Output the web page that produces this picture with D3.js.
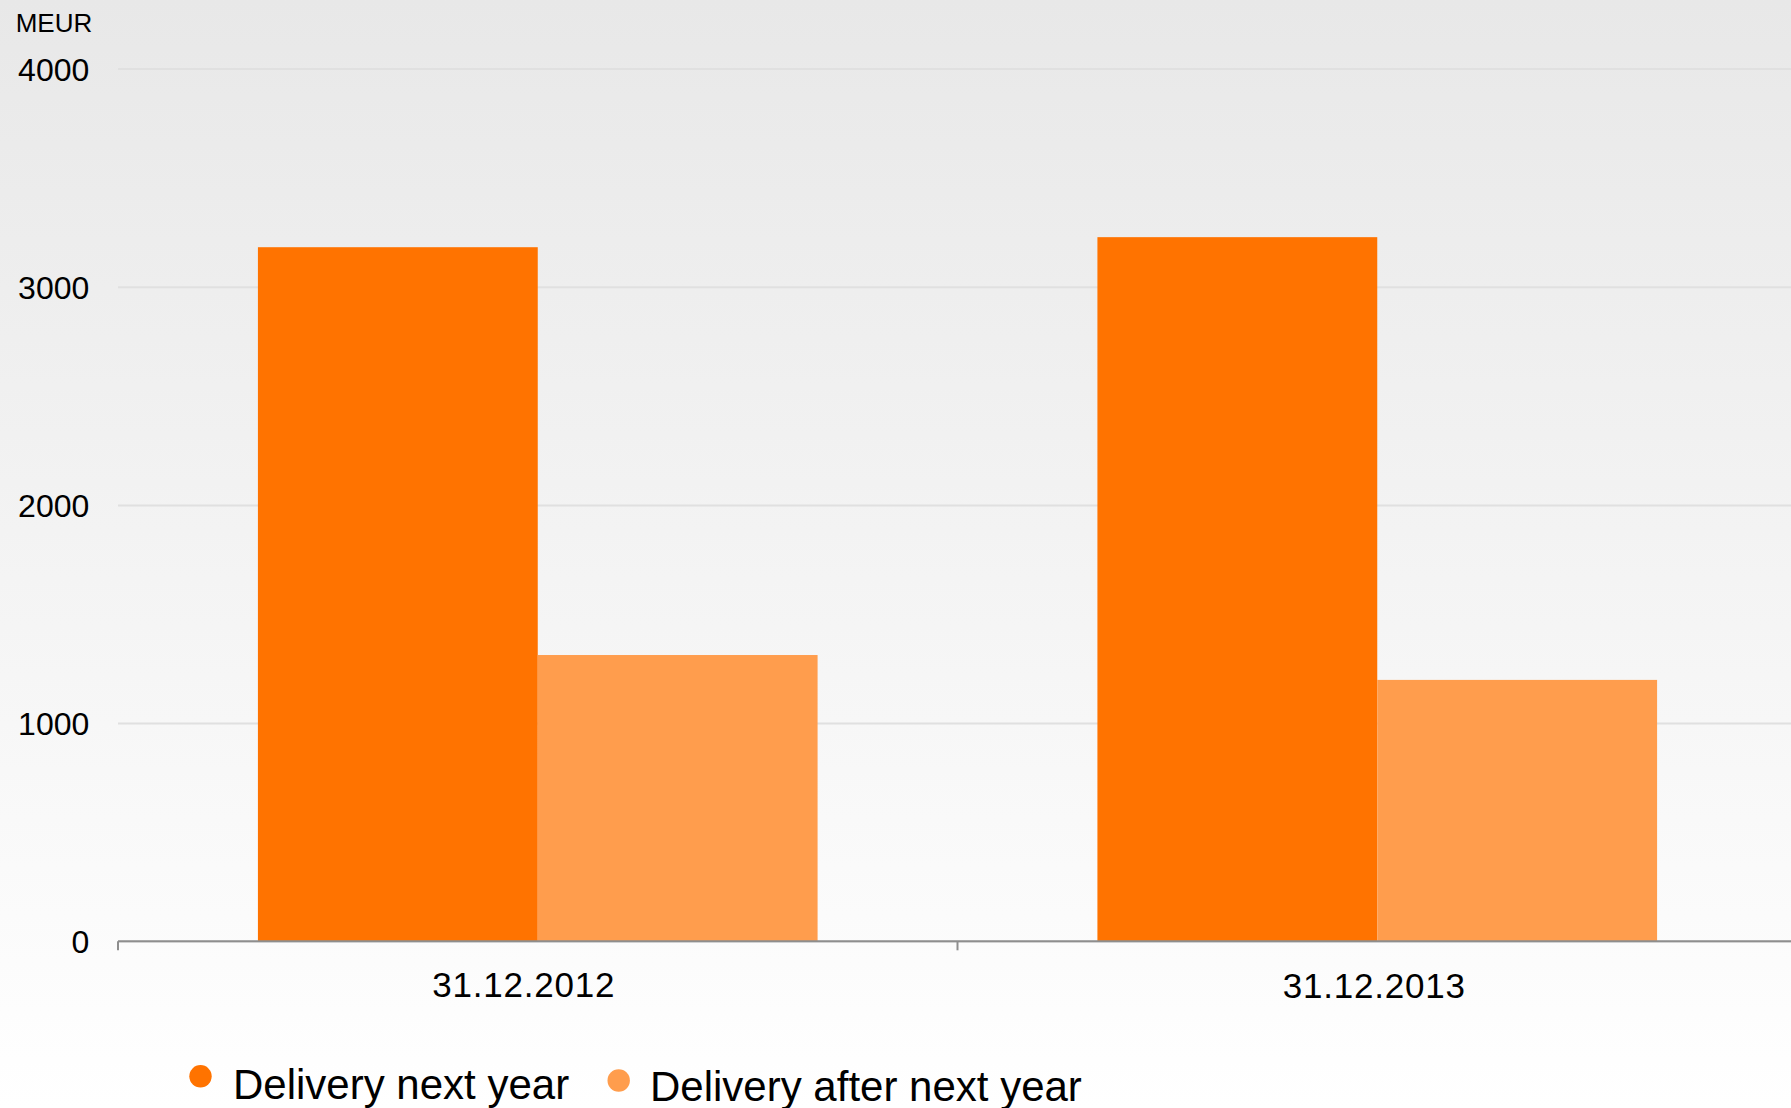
<!doctype html>
<html>
<head>
  <meta charset="UTF-8">
  <script src="https://d3js.org/d3.v7.min.js"></script>
  <style>
    html, body { margin: 0; padding: 0; overflow: hidden; }
    svg { display: block; font-family: "Liberation Sans", Arial, sans-serif; }
  </style>
</head>
<body>
<svg id="chart" width="1791" height="1108"></svg>
<script>
// chart data
var categories = ["31.12.2012", "31.12.2013"];
var seriesNames = ["Delivery next year", "Delivery after next year"];
var nextYear = [3181, 3227];
var afterNextYear = [1312, 1198];
var yTicks = [0, 1000, 2000, 3000, 4000];
var colors = ["#ff7300", "#ff9d4d"];

var svg = d3.select("#chart");
var W = 1791, H = 1108;
var plotLeft = 118, plotRight = 1797, plotTop = 68.5, plotBottom = 941.3;

// background gradient
var defs = svg.append("defs");
var grad = defs.append("linearGradient")
    .attr("id", "bg").attr("x1", 0).attr("y1", 0).attr("x2", 0).attr("y2", 1);
grad.append("stop").attr("offset", "0%").attr("stop-color", "#e8e8e8");
grad.append("stop").attr("offset", "100%").attr("stop-color", "#ffffff");
svg.append("rect").attr("width", W).attr("height", H).attr("fill", "url(#bg)");

var x0 = d3.scaleBand().domain(categories).range([plotLeft, plotRight]).padding(0);
var x1 = d3.scaleBand().domain(seriesNames).range([0, x0.bandwidth()])
    .paddingInner(0).paddingOuter(0.5);
var y = d3.scaleLinear().domain([0, 4000]).range([plotBottom, plotTop]);

// grid lines
var grid = svg.append("g").attr("transform", "translate(" + plotLeft + ",0)")
  .call(d3.axisLeft(y).tickValues(yTicks).tickSize(-(W - plotLeft)).tickFormat(""));
grid.select(".domain").remove();
grid.selectAll(".tick line").attr("stroke", "#e0e0e0").attr("stroke-width", 2);

// y labels
var yAxis = svg.append("g").attr("transform", "translate(89.3,0)")
  .call(d3.axisLeft(y).tickValues(yTicks).tickSize(0).tickPadding(0).tickFormat(d3.format("d")));
yAxis.select(".domain").remove();
yAxis.selectAll("text")
  .attr("font-family", "Liberation Sans, Arial, sans-serif")
  .attr("font-size", 32).attr("fill", "#000").attr("dy", "0.36em");

svg.append("text").attr("x", 15.7).attr("y", 32.3)
  .attr("font-size", 26).attr("fill", "#000").text("MEUR");

// bars
var rows = categories.map(function(c, i) {
  return { cat: c, values: [nextYear[i], afterNextYear[i]] };
});
var groups = svg.append("g").selectAll("g").data(rows).enter().append("g")
  .attr("transform", function(d) { return "translate(" + x0(d.cat) + ",0)"; });
groups.selectAll("rect")
  .data(function(d) { return d.values.map(function(v, j) { return { name: seriesNames[j], v: v, j: j }; }); })
  .enter().append("rect")
  .attr("x", function(d) { return x1(d.name); })
  .attr("y", function(d) { return y(d.v); })
  .attr("width", x1.bandwidth())
  .attr("height", function(d) { return y(0) - y(d.v); })
  .attr("fill", function(d) { return colors[d.j]; });

// x axis line and ticks at band edges
svg.append("line").attr("x1", plotLeft).attr("x2", W).attr("y1", y(0)).attr("y2", y(0))
  .attr("stroke", "#8e8e8e").attr("stroke-width", 2);
svg.append("g").selectAll("line").data(categories).enter().append("line")
  .attr("x1", function(d) { return x0(d); }).attr("x2", function(d) { return x0(d); })
  .attr("y1", y(0)).attr("y2", y(0) + 9)
  .attr("stroke", "#8e8e8e").attr("stroke-width", 2);

// category labels
svg.append("g").selectAll("text").data(categories).enter().append("text")
  .attr("x", function(d, i) { return x0(d) + x0.bandwidth() / 2 + (i === 0 ? -14 : -3); })
  .attr("y", function(d, i) { return i === 0 ? 997 : 998; })
  .attr("text-anchor", "middle")
  .attr("font-size", 35).attr("letter-spacing", 0.8).attr("fill", "#000")
  .text(function(d) { return d; });

// legend
var legendPos = [{ cx: 200.5, cy: 1076.3, tx: 233, ty: 1099.3 }, { cx: 618.7, cy: 1080.5, tx: 650, ty: 1100.7 }];
var legend = svg.append("g").selectAll("g").data(seriesNames).enter().append("g");
legend.append("circle")
  .attr("cx", function(d, i) { return legendPos[i].cx; })
  .attr("cy", function(d, i) { return legendPos[i].cy; })
  .attr("r", 11.2)
  .attr("fill", function(d, i) { return colors[i]; });
legend.append("text")
  .attr("x", function(d, i) { return legendPos[i].tx; })
  .attr("y", function(d, i) { return legendPos[i].ty; })
  .attr("font-size", 42).attr("fill", "#000")
  .text(function(d) { return d; });
</script>
</body>
</html>
